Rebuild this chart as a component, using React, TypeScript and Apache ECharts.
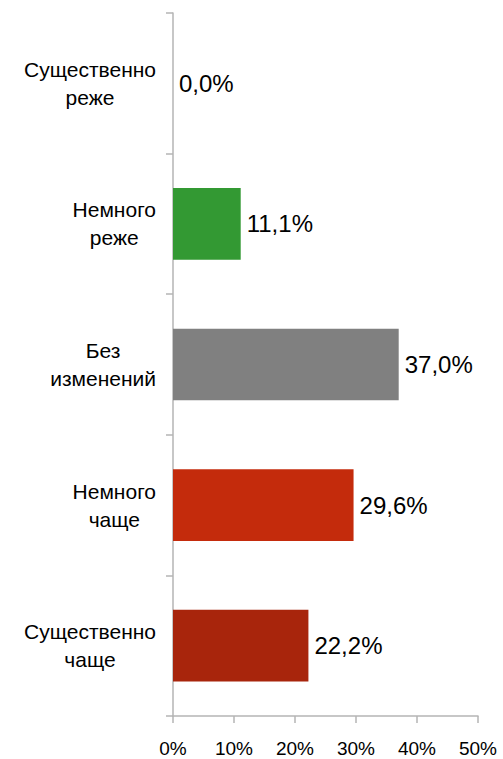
import React, { useEffect, useRef } from "react";
import * as echarts from "echarts";

const categories: string[] = [
  "Существенно\nреже",
  "Немного\nреже",
  "Без\nизменений",
  "Немного\nчаще",
  "Существенно\nчаще",
];
const values: number[] = [0.0, 11.1, 37.0, 29.6, 22.2];
const barColors: string[] = ["#339933", "#339933", "#808080", "#c42b0c", "#a8250c"];
const xTicks = { min: 0, max: 50, interval: 10 };

const FONT = "'Liberation Sans', Arial, sans-serif";
const CAT_SIZE = 21;
const GAP = 17;

export default function App() {
  const ref = useRef<HTMLDivElement>(null);
  useEffect(() => {
    document.body.style.margin = "0";
    if (!ref.current) return;
    const chart = echarts.init(ref.current, undefined, { renderer: "svg" });

    const rich = {
      ln: {
        fontSize: CAT_SIZE,
        fontFamily: FONT,
        fontWeight: "normal",
        lineHeight: 28,
        color: "#000",
        align: "center",
      },
    };

    chart.setOption({
      animation: false,
      backgroundColor: "#fff",
      grid: { left: 173, right: 25, top: 13, bottom: 43, containLabel: false },
      xAxis: {
        type: "value",
        min: xTicks.min,
        max: xTicks.max,
        interval: xTicks.interval,
        splitLine: { show: false },
        axisLine: { show: true, lineStyle: { color: "#b5b5b5", width: 1.5 } },
        axisTick: { show: true, length: 7, lineStyle: { color: "#b5b5b5", width: 1.5 } },
        axisLabel: {
          formatter: "{value}%",
          fontSize: 19,
          fontFamily: FONT,
          fontWeight: "normal",
          color: "#000",
          margin: 23,
        },
      },
      yAxis: {
        type: "category",
        data: categories,
        inverse: true,
        axisLine: { show: true, lineStyle: { color: "#b5b5b5", width: 1.5 } },
        axisTick: { show: true, length: 7, lineStyle: { color: "#b5b5b5", width: 1.5 } },
        axisLabel: {
          align: "right",
          margin: GAP,
          fontSize: CAT_SIZE,
          fontFamily: FONT,
          fontWeight: "normal",
          lineHeight: 28,
          color: "#000",
          formatter: (val: string) =>
            val
              .split("\n")
              .map((l) => `{ln|${l}}`)
              .join("\n"),
          rich,
        },
      },
      series: [
        {
          type: "bar",
          data: values.map((v, i) => ({ value: v, itemStyle: { color: barColors[i] } })),
          barCategoryGap: "49%",
          label: {
            show: true,
            position: "right",
            distance: 6,
            fontSize: 24,
            fontFamily: FONT,
            fontWeight: "normal",
            color: "#000",
            formatter: (p: any) => `${(p.value as number).toFixed(1).replace(".", ",")}%`,
          },
        },
      ],
    });
    return () => chart.dispose();
  }, []);
  return <div ref={ref} style={{ width: 503, height: 759 }} />;
}
